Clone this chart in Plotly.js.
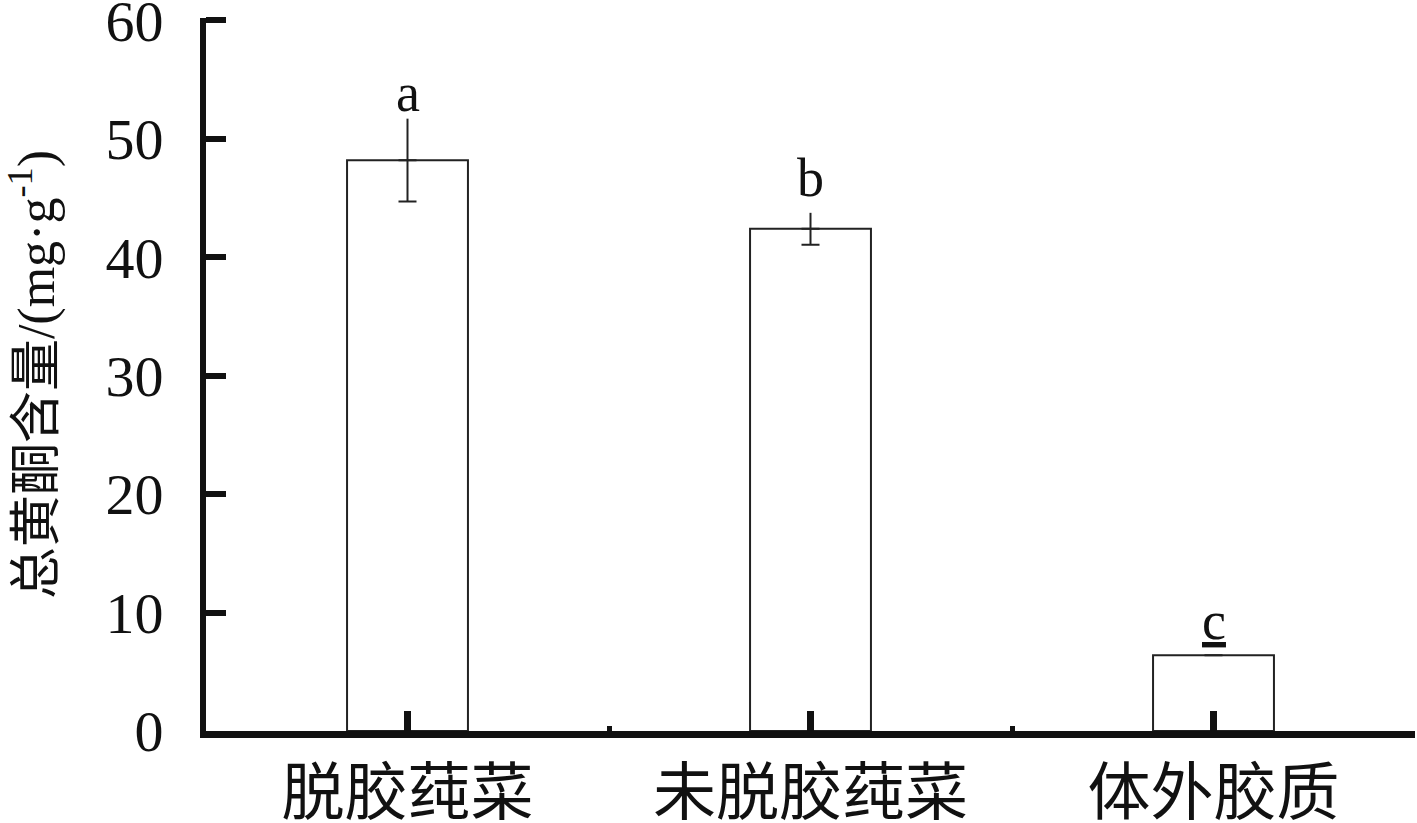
<!DOCTYPE html>
<html>
<head>
<meta charset="utf-8">
<script src="https://cdn.plot.ly/plotly-3.0.1.min.js"></script>
<style>html,body{margin:0;padding:0;background:#fff;}#chart{width:1417px;height:823px;}</style>
</head>
<body>
<div id="chart"></div>
<script>
const categories = ['脱胶莼菜', '未脱胶莼菜', '体外胶质'];
const values = [48.2, 42.4, 6.4];
const errors = [3.5, 1.35, 0];
const letters = ['a', 'b', '<u>c</u>'];
const yTicks = [0, 10, 20, 30, 40, 50, 60];

const xpos = categories.map((c, i) => i);
const zeros = values.map(() => 0);
const letterShift = [-6, 3, 2];

const serif = 'Liberation Serif, Times New Roman, Noto Sans CJK SC, serif';
const cjk = 'Noto Sans CJK SC, sans-serif';

const traces = [
  {
    type: 'bar',
    x: xpos,
    y: values,
    width: 0.3,
    marker: {color: '#ffffff', line: {color: '#222222', width: 2}},
    error_y: {type: 'data', symmetric: false, array: zeros, arrayminus: errors, width: 9, thickness: 2, color: '#222222'},
    hoverinfo: 'skip',
    showlegend: false
  },
  {
    type: 'scatter',
    mode: 'markers',
    x: xpos,
    y: values,
    marker: {size: 1, opacity: 0},
    error_y: {type: 'data', symmetric: false, array: errors, arrayminus: zeros, width: 0, thickness: 2, color: '#222222'},
    hoverinfo: 'skip',
    showlegend: false
  }
];

const annotations = xpos.map((x, i) => ({
  x: x,
  y: values[i] + errors[i],
  xref: 'x',
  yref: 'y',
  text: letters[i],
  showarrow: false,
  yanchor: 'bottom',
  yshift: letterShift[i],
  font: {family: serif, size: 54, color: '#111'}
}));

const layout = {
  width: 1417,
  height: 823,
  margin: {l: 206, r: 2, t: 18, b: 92},
  paper_bgcolor: '#ffffff',
  plot_bgcolor: '#ffffff',
  showlegend: false,
  xaxis: {
    range: [-0.5, 2.5],
    tickmode: 'array',
    tickvals: xpos,
    ticktext: categories,
    ticks: 'inside',
    ticklen: 20,
    tickwidth: 7,
    tickcolor: '#111',
    showline: true,
    linewidth: 7,
    linecolor: '#111',
    showgrid: false,
    zeroline: false,
    ticklabelstandoff: 0,
    ticklabeloverflow: 'allow',
    tickfont: {family: cjk, size: 63, color: '#111'},
    minor: {tickmode: 'array', tickvals: [0.5, 1.5], ticks: 'inside', ticklen: 5, tickwidth: 5, tickcolor: '#111', showgrid: false}
  },
  yaxis: {
    range: [0, 60.2],
    tickmode: 'array',
    tickvals: yTicks,
    ticktext: yTicks.map(String),
    ticks: 'inside',
    ticklen: 20,
    tickwidth: 6,
    tickcolor: '#111',
    showline: true,
    linewidth: 6,
    linecolor: '#111',
    showgrid: false,
    zeroline: false,
    ticklabelstandoff: 25,
    ticklabeloverflow: 'allow',
    tickfont: {family: serif, size: 58, color: '#111'},
    title: {
      text: '总黄酮含量/(mg·g<sup>-1</sup>)',
      font: {family: serif, size: 52, color: '#111'},
      standoff: 40
    }
  },
  annotations: annotations
};

Plotly.newPlot('chart', traces, layout, {displayModeBar: false, staticPlot: true});
</script>
</body>
</html>
